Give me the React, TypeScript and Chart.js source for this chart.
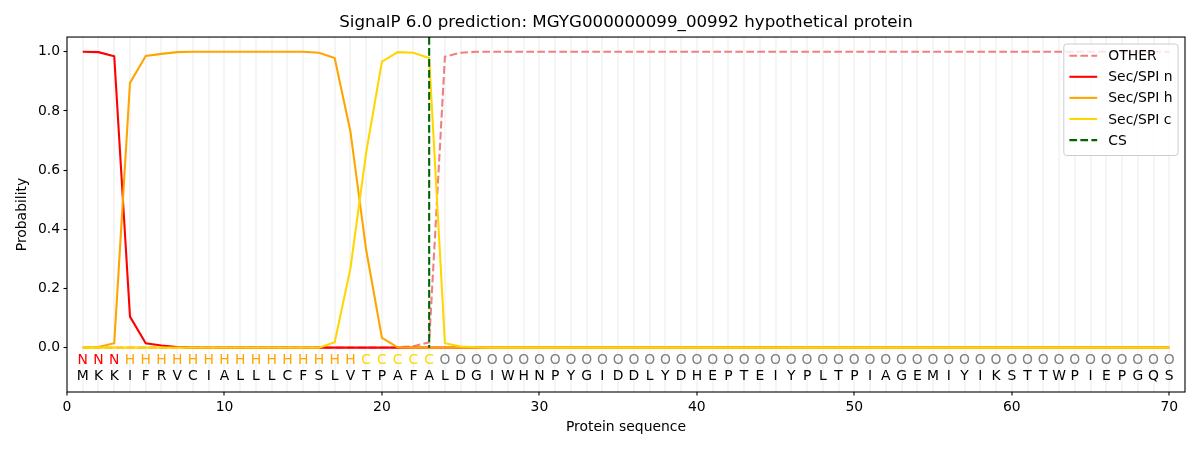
import { Chart, registerables } from "chart.js";
import { useEffect, useRef } from "react";

Chart.register(...registerables);

const titleText = "SignalP 6.0 prediction: MGYG000000099_00992 hypothetical protein";

// sequence and predicted region per residue
const residues = "MKKIFRVCIALLLCFSLVTPAFALDGIWHNPYGIDDLYDHEPTEIYPLTPIAGEMIYIKSTTWPIEPGQS".split("");
const regions = (
    "NNN" +
    "HHHHHHHHHHHHHHH" +
    "CCCCC" +
    "OOOOOOOOOO" + "OOOOOOOOOO" + "OOOOOOOOOO" + "OOOOOOOOOO" + "OOOOOOO"
).split("");

const otherProb = [
    0, 0, 0, 0, 0, 0, 0, 0, 0, 0,
    0, 0, 0, 0, 0, 0, 0, 0, 0, 0,
    0.001, 0.005, 0.018, 0.984, 0.997, 1, 1, 1, 1, 1,
    1, 1, 1, 1, 1, 1, 1, 1, 1, 1,
    1, 1, 1, 1, 1, 1, 1, 1, 1, 1,
    1, 1, 1, 1, 1, 1, 1, 1, 1, 1,
    1, 1, 1, 1, 1, 1, 1, 1, 1, 1,
];
const nProb = [
    1.0, 0.999, 0.985, 0.105, 0.015, 0.007, 0.002, 0, 0, 0,
    0, 0, 0, 0, 0, 0, 0, 0, 0, 0,
    0, 0, 0, 0, 0, 0, 0, 0, 0, 0,
    0, 0, 0, 0, 0, 0, 0, 0, 0, 0,
    0, 0, 0, 0, 0, 0, 0, 0, 0, 0,
    0, 0, 0, 0, 0, 0, 0, 0, 0, 0,
    0, 0, 0, 0, 0, 0, 0, 0, 0, 0,
];
const hProb = [
    0, 0.002, 0.015, 0.895, 0.986, 0.993, 0.999, 1, 1, 1,
    1, 1, 1, 1, 1, 0.997, 0.979, 0.73, 0.33, 0.033,
    0.001, 0, 0, 0, 0, 0, 0, 0, 0, 0,
    0, 0, 0, 0, 0, 0, 0, 0, 0, 0,
    0, 0, 0, 0, 0, 0, 0, 0, 0, 0,
    0, 0, 0, 0, 0, 0, 0, 0, 0, 0,
    0, 0, 0, 0, 0, 0, 0, 0, 0, 0,
];
const cProb = [
    0, 0, 0, 0, 0, 0, 0, 0, 0, 0,
    0, 0, 0, 0, 0, 0, 0.018, 0.268, 0.66, 0.967,
    0.999, 0.997, 0.979, 0.015, 0.004, 0.001, 0, 0, 0, 0,
    0, 0, 0, 0, 0, 0, 0, 0, 0, 0,
    0, 0, 0, 0, 0, 0, 0, 0, 0, 0,
    0, 0, 0, 0, 0, 0, 0, 0, 0, 0,
    0, 0, 0, 0, 0, 0, 0, 0, 0, 0,
];
const csPosition = 23;

const yTickValues = [0, 0.2, 0.4, 0.6, 0.8, 1.0];
const xLabelStep = 10;

const regionColors: Record<string, string> = {
    N: "#ff0000",
    H: "#ffa500",
    C: "#ffd700",
    O: "#808080",
};

const FONT = "'DejaVu Sans', sans-serif";
const LINE_W = 2.08;
const dashed = [7.7, 3.3];

const series = [
    { label: "OTHER", values: otherProb, color: "#f08080", dash: dashed },
    { label: "Sec/SPI n", values: nProb, color: "#ff0000", dash: [] },
    { label: "Sec/SPI h", values: hProb, color: "#ffa500", dash: [] },
    { label: "Sec/SPI c", values: cProb, color: "#ffd700", dash: [] },
];

// letters under the curves: region on one row, residue below
const sequencePlugin = {
    id: "sequenceText",
    afterDatasetsDraw(chart: any) {
        const { ctx, scales } = chart;
        ctx.save();
        ctx.font = `13.9px ${FONT}`;
        ctx.textAlign = "center";
        ctx.textBaseline = "middle";
        residues.forEach((res, i) => {
            const px = scales.x.getPixelForValue(i + 1);
            ctx.fillStyle = regionColors[regions[i]];
            ctx.fillText(regions[i], px, scales.y.getPixelForValue(-0.044));
            ctx.fillStyle = "#000";
            ctx.fillText(res, px, scales.y.getPixelForValue(-0.097));
        });
        ctx.restore();
    },
};

// box around the plot, like matplotlib spines
const framePlugin = {
    id: "frame",
    afterDatasetsDraw(chart: any) {
        const { ctx, chartArea: a } = chart;
        ctx.save();
        ctx.strokeStyle = "#000";
        ctx.lineWidth = 1.1;
        ctx.strokeRect(a.left, a.top, a.right - a.left, a.bottom - a.top);
        ctx.restore();
    },
};

const legendPlugin = {
    id: "boxLegend",
    afterDraw(chart: any) {
        const { ctx, chartArea: a } = chart;
        const fs = 13.9;
        const sets = chart.data.datasets;
        ctx.save();
        ctx.font = `${fs}px ${FONT}`;
        const textW = Math.max(...sets.map((d: any) => ctx.measureText(d.label).width));
        const pad = 0.4 * fs;
        const handle = 2 * fs;
        const gap = 0.8 * fs;
        const rowH = 21.1;
        const w = pad + handle + gap + textW + pad;
        const h = 2 * pad + rowH * sets.length - 7.1 + 2;
        const right = a.right - 0.5 * fs;
        const top = a.top + 0.5 * fs;
        const left = right - w;

        ctx.beginPath();
        ctx.roundRect(left, top, w, h, 2.8);
        ctx.fillStyle = "rgba(255,255,255,0.8)";
        ctx.fill();
        ctx.strokeStyle = "#cccccc";
        ctx.lineWidth = 1;
        ctx.stroke();

        ctx.textBaseline = "middle";
        ctx.textAlign = "left";
        sets.forEach((d: any, i: number) => {
            const cy = top + 11.7 + i * rowH;
            ctx.beginPath();
            ctx.setLineDash(d.borderDash || []);
            ctx.strokeStyle = d.borderColor;
            ctx.lineWidth = LINE_W;
            ctx.moveTo(left + pad, cy);
            ctx.lineTo(left + pad + handle, cy);
            ctx.stroke();
            ctx.setLineDash([]);
            ctx.fillStyle = "#000";
            ctx.fillText(d.label, left + pad + handle + gap, cy + 1);
        });
        ctx.restore();
    },
};

export default function App() {
    const canvasRef = useRef<HTMLCanvasElement>(null);
    const chartRef = useRef<Chart | null>(null);

    useEffect(() => {
        document.body.style.margin = "0";
        const positions = residues.map((_, i) => i + 1);

        const datasets: any[] = series.map((s, i) => ({
            type: "line",
            label: s.label,
            data: positions.map((p, k) => ({ x: p, y: s.values[k] })),
            borderColor: s.color,
            borderWidth: LINE_W,
            borderDash: s.dash,
            pointRadius: 0,
            fill: false,
            tension: 0,
            order: 10 - i,
        }));
        datasets.push({
            type: "line",
            label: "CS",
            data: [
                { x: csPosition, y: 1.05 },
                { x: csPosition, y: 0 },
            ],
            borderColor: "#006400",
            borderWidth: LINE_W,
            borderDash: dashed,
            pointRadius: 0,
            fill: false,
            order: 0,
        });

        chartRef.current = new Chart(canvasRef.current!, {
            type: "line",
            data: { datasets },
            options: {
                animation: false,
                responsive: false,
                events: [],
                layout: { padding: { top: 0, right: 15, bottom: 0, left: 0 } },
                plugins: {
                    legend: { display: false },
                    tooltip: { enabled: false },
                    title: {
                        display: true,
                        text: titleText,
                        fullSize: false,
                        color: "#000",
                        font: { family: FONT, size: 16.7, weight: "normal" },
                        padding: { top: 13, bottom: 4 },
                    },
                },
                scales: {
                    x: {
                        type: "linear",
                        min: 0,
                        max: 71,
                        afterBuildTicks: (s: any) => {
                            s.ticks = [0, ...positions].map((v) => ({ value: v }));
                        },
                        afterFit: (s: any) => {
                            s.height = 58;
                        },
                        ticks: {
                            autoSkip: false,
                            maxRotation: 0,
                            padding: 3.5,
                            color: "#000",
                            font: { family: FONT, size: 13.9 },
                            callback: (v: any) => (v % xLabelStep === 0 ? String(v) : ""),
                        },
                        grid: {
                            color: (c: any) =>
                                c.tick && c.tick.value > 0 ? "rgba(128,128,128,0.08)" : "rgba(0,0,0,0)",
                            lineWidth: 2,
                            tickColor: (c: any) =>
                                c.tick && c.tick.value % xLabelStep === 0 ? "#000" : "rgba(0,0,0,0)",
                            tickLength: 3.5,
                            tickWidth: 1.1,
                        },
                        border: { display: false },
                        title: {
                            display: true,
                            text: "Protein sequence",
                            color: "#000",
                            font: { family: FONT, size: 13.9 },
                            padding: { top: 0, bottom: 14.7 },
                        },
                    },
                    y: {
                        type: "linear",
                        min: -0.15,
                        max: 1.05,
                        afterBuildTicks: (s: any) => {
                            s.ticks = yTickValues.map((v) => ({ value: v }));
                        },
                        afterFit: (s: any) => {
                            s.width = 67;
                        },
                        ticks: {
                            padding: 3.5,
                            color: "#000",
                            font: { family: FONT, size: 13.9 },
                            callback: (v: any) => Number(v).toFixed(1),
                        },
                        grid: {
                            drawOnChartArea: false,
                            tickLength: 3.5,
                            tickWidth: 1.1,
                            tickColor: "#000",
                        },
                        border: { display: false },
                        title: {
                            display: true,
                            text: "Probability",
                            color: "#000",
                            font: { family: FONT, size: 13.9 },
                            padding: { top: 13.7, bottom: 0 },
                        },
                    },
                },
            },
            plugins: [sequencePlugin, framePlugin, legendPlugin],
        } as any);

        return () => chartRef.current?.destroy();
    }, []);

    return (
        <div style={{ width: 1200, height: 450 }}>
            <canvas ref={canvasRef} width={1200} height={450} />
        </div>
    );
}
